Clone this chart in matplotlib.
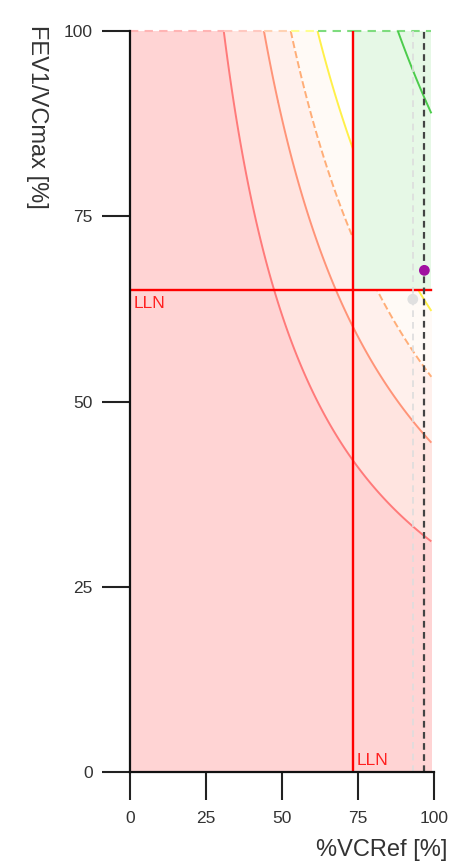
import numpy as np
import matplotlib
matplotlib.use("Agg")
import matplotlib.pyplot as plt
from matplotlib.patches import Rectangle

plt.rcParams['font.family'] = ['Liberation Sans', 'DejaVu Sans']

# ---- data ----
fev1_pct_levels = [35, 50, 60, 70, 100]       # FEV1 %pred iso-lines
ref_ratio = 88.0                              # reference FEV1/VCmax [%]
lln_vc = 73.2                                 # LLN of %VCRef
lln_ratio = 65.0                              # LLN of FEV1/VCmax
x_max_data = 99.0
pre_point = (92.9, 63.8)                      # grey point
post_point = (96.7, 67.7)                     # purple point
xticks = [0, 25, 50, 75, 100]
yticks = [0, 25, 50, 75, 100]

band_colors = ['#FFD4D4', '#FFE4E0', '#FFF0EC', '#FFFAF6', '#FFFFFF']
line_colors = ['#FF7A7A', '#FF9478', '#FFAE78', '#FFF04A', '#4CCC4C']
line_styles = ['solid', 'solid', 'dashed', 'solid', 'solid']
top_edge_colors = ['#FFB4B4', '#FFC8C0', '#FFD2B4', '#FFFF90', '#7EDC7E']

fig = plt.figure(figsize=(4.62, 8.66), dpi=100)
ax = fig.add_axes([130/462, 1-772/866, (434.4-130)/462, (772-31)/866])

xs = np.linspace(0, x_max_data, 400)
ys = np.linspace(0, 100, 400)
X, Y = np.meshgrid(xs, ys)
Z = X * Y / ref_ratio

ax.contourf(X, Y, Z, levels=[0] + fev1_pct_levels[:4] + [1e6], colors=band_colors, zorder=1)
ax.contour(X, Y, Z, levels=fev1_pct_levels[:4], colors=line_colors[:4],
           linestyles=line_styles[:4], linewidths=1.4, zorder=2)

# top dashed edge, coloured by band
edges = [0] + [lv * ref_ratio / 100 for lv in fev1_pct_levels[:4]] + [lln_vc]
for i in range(5):
    ax.plot([edges[i], edges[i+1]], [100, 100], color=top_edge_colors[i], lw=1.5,
            ls=(0, (4, 3)), zorder=2, clip_on=False)

# green normal region
ax.add_patch(Rectangle((lln_vc, lln_ratio), x_max_data - lln_vc, 100 - lln_ratio,
                       facecolor='#E6F8E6', edgecolor='none', zorder=3))
ax.plot([lln_vc, x_max_data], [100, 100], color=top_edge_colors[4], lw=1.5,
        ls=(0, (4, 3)), zorder=3.5, clip_on=False)
ax.contour(X, Y, Z, levels=[fev1_pct_levels[4]], colors=[line_colors[4]],
           linewidths=1.4, zorder=4)

# LLN lines
ax.plot([lln_vc, lln_vc], [0, 100], color='#FF0000', lw=1.7, zorder=5)
ax.plot([0, x_max_data], [lln_ratio, lln_ratio], color='#FF0000', lw=1.7, zorder=5)
ax.text(1.2, lln_ratio - 1.8, 'LLN', color='#FF2020', fontsize=12.5, va='center', ha='left', zorder=6)
ax.text(lln_vc + 1.2, 1.5, 'LLN', color='#FF2020', fontsize=12.5, va='center', ha='left', zorder=6)

# measurement lines and points
ax.plot([pre_point[0], pre_point[0]], [0, 100], color='#DDDDDD', lw=1.2, ls=(0, (4, 3)), zorder=6)
ax.plot([post_point[0], post_point[0]], [0, 100], color='#444444', lw=1.6, ls=(0, (3, 2)), zorder=6)
ax.scatter([pre_point[0]], [pre_point[1]], s=60, color='#E0E0E0', zorder=7, edgecolors='none')
ax.scatter([post_point[0]], [post_point[1]], s=60, color='#A010A0', zorder=7, edgecolors='none')

ax.set_xlim(0, 100)
ax.set_ylim(0, 100)
ax.set_xticks(xticks)
ax.set_yticks(yticks)
for s in ['top', 'right']:
    ax.spines[s].set_visible(False)
for s in ['left', 'bottom']:
    ax.spines[s].set_linewidth(1.6)
    ax.spines[s].set_color('#111111')
    ax.spines[s].set_zorder(8)
ax.tick_params(direction='out', length=20, width=1.5, color='#222222',
               labelsize=12.5, labelcolor='#333333')
ax.tick_params(axis='x', pad=8)
ax.tick_params(axis='y', pad=7)

fig.text(447/462, 1-850/866, '%VCRef [%]', ha='right', va='center', fontsize=17, color='#333333')
fig.text(37/462, 1-25/866, 'FEV1/VCmax [%]', ha='center', va='top', rotation=-90,
         fontsize=17, color='#333333')

fig.savefig('out.png', dpi=100)
